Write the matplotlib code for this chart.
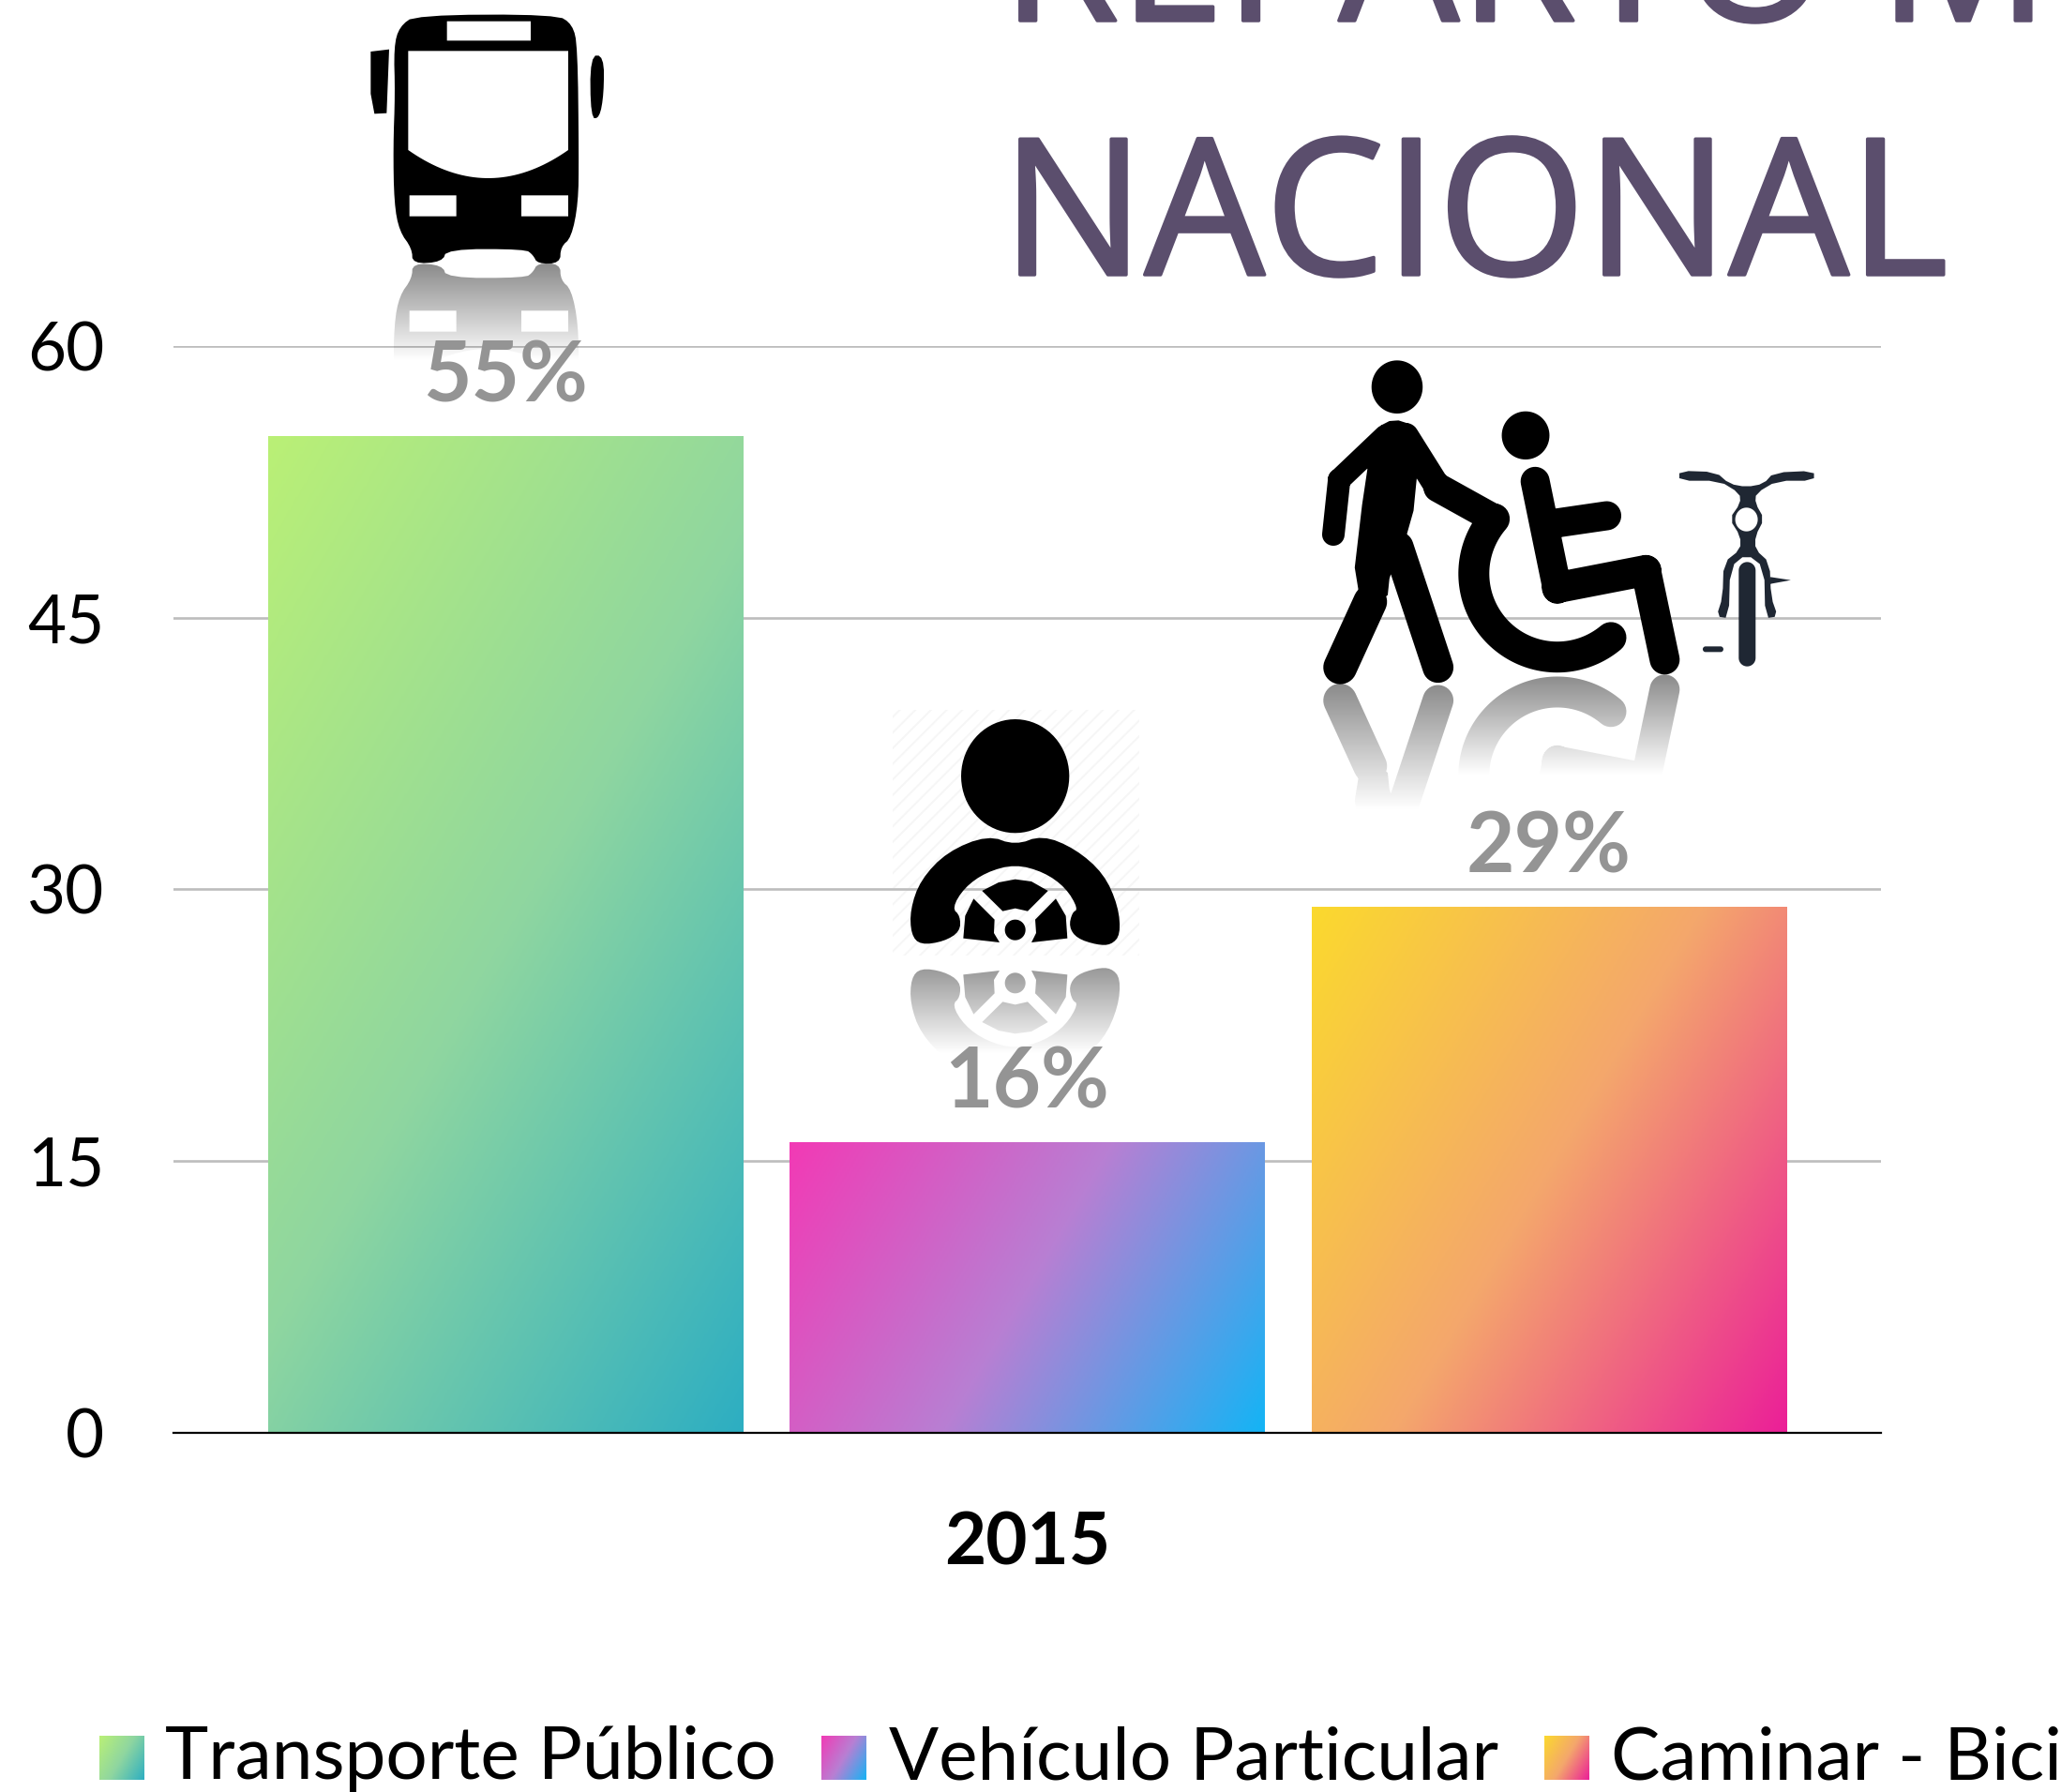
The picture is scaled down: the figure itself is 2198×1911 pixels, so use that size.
import numpy as np
import matplotlib
matplotlib.use("Agg")
import matplotlib.pyplot as plt
import matplotlib.patheffects as pe
from matplotlib.path import Path
from matplotlib.patches import PathPatch, Rectangle
from matplotlib.colors import LinearSegmentedColormap

# ---------- data ----------
years = ["2015"]
categories = ["Transporte Público", "Vehículo Particular", "Caminar - Bicicleta"]
values = [55, 16, 29]
value_labels = ["55%", "16%", "29%"]
y_ticks = [0, 15, 30, 45, 60]
title_lines = ["REPARTO MODAL", "NACIONAL"]

# ---------- style ----------
W, H = 2198, 1911
grad_colors = [("#BAF076", "#8FD6A0", "#2DAEC2"),
               ("#F23AB5", "#B87FD3", "#14B4F5"),
               ("#FBD92E", "#F4A76C", "#EB1F98")]
GRID = "#BDBDBD"
LABEL = "#949494"
TITLE = "#5B4E6D"
BIKE = "#1F2733"
plt.rcParams["font.family"] = ["Lato", "DejaVu Sans"]
plt.rcParams["hatch.linewidth"] = 1.4

fig = plt.figure(figsize=(W / 100, H / 100), dpi=100, facecolor="white")
L, R, T, B = 185, 2006, 369, 1528
ax = fig.add_axes([L / W, 1 - B / H, (R - L) / W, (B - T) / H], zorder=1)
ov = fig.add_axes([0, 0, 1, 1], zorder=2)
ov.set_xlim(0, W); ov.set_ylim(H, 0); ov.axis("off"); ov.patch.set_alpha(0)


def diag_image(colors, w, h, n=300):
    u, v = np.meshgrid(np.linspace(0, 1, n), np.linspace(0, 1, n))
    k = 1.7 * w
    t = (k * u + h * v) / (k + h)
    cmap = LinearSegmentedColormap.from_list("g", list(colors))
    return cmap(t)


# ---------- bars ----------
xs = np.arange(len(values))
bars = ax.bar(xs, values, width=0.91, color="none", linewidth=0, zorder=2)
ax.set_xlim(-0.636, 2.636)
ax.set_ylim(0, 60)
for b, cols in zip(bars, grad_colors):
    x0, w, h = b.get_x(), b.get_width(), b.get_height()
    p0 = ax.transData.transform((x0, 0)); p1 = ax.transData.transform((x0 + w, h))
    ax.imshow(diag_image(cols, p1[0] - p0[0], p1[1] - p0[1]), extent=(x0, x0 + w, 0, h),
              origin="upper", aspect="auto", zorder=2, interpolation="bilinear")
ax.set_xlim(-0.636, 2.636)
ax.set_ylim(0, 60)
ax.set_yticks(y_ticks)
ax.set_yticklabels([str(t) for t in y_ticks], fontsize=51, color="black")
ax.set_xticks([1])
ax.set_xticklabels(years, fontsize=55, fontweight="bold", color="black")
ax.tick_params(axis="y", length=0, pad=53)
ax.tick_params(axis="x", length=0, pad=60)
ax.grid(axis="y", color=GRID, linewidth=1.9, zorder=0.5)
ax.grid(axis="x", visible=False)
ax.set_axisbelow(True)
for s in ["top", "left", "right"]:
    ax.spines[s].set_visible(False)
ax.spines["bottom"].set_color("black")
ax.spines["bottom"].set_linewidth(1.6)
ax.patch.set_alpha(0)

# value labels, anchored on the bars through the axes' own scale
for x, v, t in zip(xs, values, value_labels):
    ov.annotate(t, xy=(x, v), xycoords=ax.transData, xytext=(0, 37),
                textcoords="offset pixels", ha="center", va="baseline",
                fontsize=64, fontweight="bold", color=LABEL, zorder=20)

# ---------- title ----------
thick = [pe.withStroke(linewidth=2.5, foreground=TITLE)]
ov.text(1068, 22, title_lines[0], fontsize=146, family="Open Sans", color=TITLE,
        va="baseline", ha="left", clip_on=True, path_effects=thick)
ov.text(1068, 293, title_lines[1], fontsize=146, family="Open Sans", color=TITLE,
        va="baseline", ha="left", clip_on=True, path_effects=thick)

# ---------- legend ----------
sw_x = [106, 876, 1647]
tx_x = [176, 948, 1718]
for sx, tx, name, cols in zip(sw_x, tx_x, categories, grad_colors):
    ov.imshow(diag_image(cols, 48, 47), extent=(sx, sx + 48, 1898, 1851), origin="upper",
              aspect="auto", zorder=5, interpolation="bilinear")
    ov.text(tx, 1897, name, fontsize=56.5, color="black", va="baseline", ha="left", clip_on=True)
ov.set_xlim(0, W); ov.set_ylim(H, 0)


# ---------- pictograms (decoration, in pixel space) ----------
def chaikin(p, n=2):
    p = np.asarray(p, float)
    for _ in range(n):
        q = np.roll(p, -1, axis=0)
        p = np.column_stack([0.75 * p + 0.25 * q, 0.25 * p + 0.75 * q]).reshape(-1, 2)
    return p


def ellipse(cx, cy, rx, ry, n=72):
    t = np.linspace(0, 2 * np.pi, n, endpoint=False)
    return np.column_stack([cx + rx * np.cos(t), cy + ry * np.sin(t)])


def rect(x0, y0, x1, y1):
    return np.array([(x0, y0), (x1, y0), (x1, y1), (x0, y1)], float)


def capsule(p0, p1, hw, n=20):
    p0, p1 = np.asarray(p0, float), np.asarray(p1, float)
    a = np.arctan2(*(p1 - p0)[::-1])
    t1 = a - np.pi / 2 + np.linspace(0, np.pi, n)
    t0 = a + np.pi / 2 + np.linspace(0, np.pi, n)
    return np.vstack([np.column_stack([p1[0] + hw * np.cos(t1), p1[1] + hw * np.sin(t1)]),
                      np.column_stack([p0[0] + hw * np.cos(t0), p0[1] + hw * np.sin(t0)])])


def area(p):
    x, y = p[:, 0], p[:, 1]
    return 0.5 * np.sum(x * np.roll(y, -1) - np.roll(x, -1) * y)


def poly_path(p, hole=False):
    p = np.asarray(p, float)
    a = area(p)
    if (a < 0) != hole:
        p = p[::-1]
    v = np.vstack([p, p[0]])
    c = [Path.MOVETO] + [Path.LINETO] * (len(p) - 1) + [Path.CLOSEPOLY]
    return Path(v, c)


def compound(outer, holes=()):
    return Path.make_compound_path(*[poly_path(p) for p in outer],
                                   *[poly_path(p, True) for p in holes])


def zmap(p, x0, y0, sx, sy):
    p = np.asarray(p, float)
    return np.column_stack([x0 + p[:, 0] / sx, y0 + p[:, 1] / sy])


def draw_icon(path, color="black", z=6):
    ov.add_patch(PathPatch(path, facecolor=color, edgecolor="none", zorder=z))


def reflect(path, mirror, length, a0=0.46, z=6):
    v = path.vertices.copy()
    v[:, 1] = 2 * mirror - v[:, 1]
    p = Path(v, path.codes)
    x0, x1 = v[:, 0].min(), v[:, 0].max()
    rgba = np.zeros((256, 2, 4))
    rgba[:, :, 3] = np.linspace(a0, 0, 256)[:, None]
    im = ov.imshow(rgba, extent=(x0, x1, mirror + length, mirror), origin="upper",
                   aspect="auto", zorder=z, interpolation="bilinear")
    im.set_clip_path(PathPatch(p, transform=ov.transData))


# bus
bz = lambda pts, n=2: chaikin(zmap(pts, 360, 0, 3, 3), n)
bus_outer = [
    bz([(250, 48), (700, 46), (752, 78), (768, 150), (772, 500), (770, 650), (748, 760),
        (714, 790), (712, 842), (640, 844), (625, 815), (600, 797), (350, 797), (335, 838),
        (240, 844), (238, 795), (198, 740), (181, 650), (178, 470), (184, 300), (180, 150), (198, 85)]),
    zmap([(106, 165), (165, 158), (157, 362), (118, 364), (106, 300)], 360, 0, 3, 3),
    bz([(808, 178), (852, 178), (852, 300), (838, 378), (810, 378)]),
]
s = np.linspace(0, 1, 40)[:, None]
win_arc = (1 - s) ** 2 * np.array([[738, 480]]) + 2 * s * (1 - s) * np.array([[482, 660]]) + s ** 2 * np.array([[226, 480]])
bus_holes = [
    zmap(rect(350, 68, 618, 130), 360, 0, 3, 3),
    zmap(np.vstack([[(226, 163), (738, 163)], win_arc]), 360, 0, 3, 3),
    zmap(rect(230, 625, 380, 692), 360, 0, 3, 3),
    zmap(rect(588, 625, 738, 692), 360, 0, 3, 3),
]
bus = compound(bus_outer, bus_holes)
reflect(compound(bus_outer[:1], bus_holes), 281, 104)
draw_icon(bus)

# driver
dm = lambda pts: zmap(pts, 940, 740, 3, 3)
dz = lambda pts, n=2: chaikin(dm(pts), n)
drv_outer = [
    dm(ellipse(428, 263, 173, 182)),
    dz([(340, 452), (428, 484), (515, 452), (620, 495), (712, 575), (758, 680), (765, 770), (735, 803),
        (690, 803), (625, 782), (600, 745), (610, 700), (630, 688), (590, 620), (520, 570), (428, 545),
        (335, 570), (265, 620), (226, 685), (252, 710), (252, 760), (200, 792), (125, 803), (95, 770),
        (92, 690), (125, 595), (210, 505)], 2),
    dm([(322, 630), (375, 603), (428, 593), (480, 600), (533, 630), (468, 695), (428, 686), (388, 695)]),
    dm([(295, 655), (362, 722), (360, 765), (378, 795), (262, 782), (268, 710)]),
    dm([(558, 655), (492, 722), (495, 765), (480, 795), (595, 782), (590, 710)]),
    dm(ellipse(428, 755, 33, 33)),
]
driver = compound(drv_outer)
ax.add_patch(Rectangle((952, 757), 263, 262, transform=ov.transData, facecolor="none",
                       edgecolor="#F6F6F6", hatch="//", linewidth=0, zorder=0.2, clip_on=False))
reflect(compound(drv_outer[1:]), 1020, 104)
draw_icon(driver)

# walker, wheelchair, bicycle (the crop had different x and y scales)
SX = 1568 / 570
wm = lambda pts: zmap(pts, 1390, 370, SX, 3)
wz = lambda pts, n=2: chaikin(wm(pts), n)
P = lambda x, y: wm([(x, y)])[0]

walker_head = wm(ellipse(275, 128, 75, 85))
torso = wz([(215, 258), (265, 230), (322, 250), (345, 290), (333, 415), (320, 560), (255, 715),
            (245, 820), (140, 806), (183, 405)], 1)
walker = [
    torso,
    capsule(P(395, 1025), P(278, 640), 16.5),        # right leg
    capsule(P(108, 1025), P(196, 815), 18),          # left shin
    capsule(P(240, 285), P(105, 425), 12),           # left upper arm
    capsule(P(105, 425), P(88, 600), 12),            # left forearm
    capsule(P(300, 285), P(395, 450), 14),           # right upper arm
    capsule(P(395, 450), P(552, 545), 15.5),         # right forearm
]
seat = [
    capsule(P(680, 430), P(745, 775), 15.5),         # back
    capsule(P(720, 567), P(890, 540), 15.5),         # arm
    capsule(P(745, 770), P(1005, 715), 16.5),        # thigh
    capsule(P(1005, 715), P(1060, 1000), 16),        # shin
]
seat_head = wm(ellipse(652, 283, 70, 77))

# wheel ring as a thick arc with round caps
cx, cy, rm, hw = 1660.8, 611.7, 89.0, 16.5
a = np.radians(np.linspace(50, 221, 90))
cap_a = np.radians(np.linspace(0, 180, 16))
end0 = np.array([cx + rm * np.cos(a[0]), cy + rm * np.sin(a[0])])
end1 = np.array([cx + rm * np.cos(a[-1]), cy + rm * np.sin(a[-1])])
ring = np.vstack([
    np.column_stack([cx + (rm + hw) * np.cos(a), cy + (rm + hw) * np.sin(a)]),
    np.column_stack([end1[0] + hw * np.cos(a[-1] + cap_a), end1[1] + hw * np.sin(a[-1] + cap_a)]),
    np.column_stack([cx + (rm - hw) * np.cos(a[::-1]), cy + (rm - hw) * np.sin(a[::-1])]),
    np.column_stack([end0[0] + hw * np.cos(a[0] + np.pi + cap_a), end0[1] + hw * np.sin(a[0] + np.pi + cap_a)]),
])
draw_icon(compound(walker + [walker_head] + seat + [seat_head, ring]))
reflect(compound(walker), 370 + 1078 / 3, 135)
reflect(compound(seat + [ring]), 370 + 1048 / 3, 108)

bike_outer = [
    wz([(1103, 396), (1210, 400), (1250, 438), (1300, 448), (1350, 438), (1380, 402), (1498, 396),
        (1498, 428), (1390, 428), (1328, 468), (1326, 500), (1352, 550), (1326, 605), (1326, 648),
        (1368, 690), (1372, 800), (1392, 862), (1355, 868), (1352, 705), (1300, 662), (1252, 705),
        (1248, 868), (1212, 862), (1230, 800), (1233, 690), (1282, 648), (1282, 605), (1250, 550),
        (1282, 500), (1280, 468), (1220, 428), (1103, 428)], 1),
    capsule(P(1302, 715), P(1302, 995), 9),
    wm([(1370, 736), (1430, 746), (1370, 758)]),
    capsule(P(1180, 967), P(1224, 967), 3),
]
bike_hole = [wm(ellipse(1300, 552, 33, 38))]
draw_icon(compound(bike_outer, bike_hole), color=BIKE)

ov.set_xlim(0, W); ov.set_ylim(H, 0)
fig.savefig("out.png", dpi=100, facecolor="white")
